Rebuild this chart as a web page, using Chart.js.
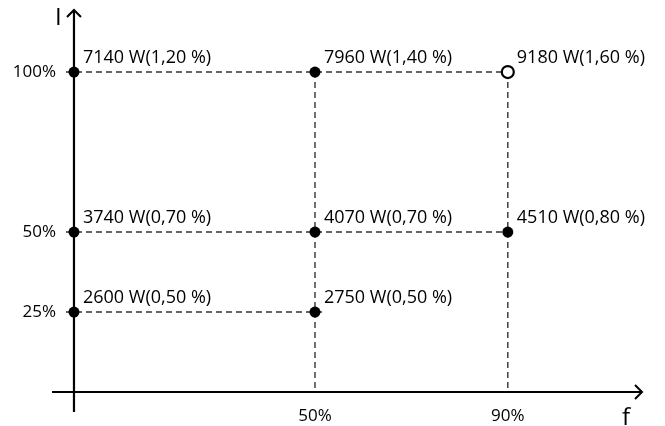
<!DOCTYPE html>
<html>
<head>
<meta charset="utf-8">
<script src="https://cdn.jsdelivr.net/npm/chart.js@4"></script>
<style>
  html, body { margin: 0; padding: 0; background: #fff; }
  #wrap { width: 665px; height: 426px; position: relative; }
</style>
</head>
<body>
<div id="wrap"><canvas id="chart"></canvas></div>
<script>
// 数据
const fValues = [0, 0, 0, 50, 50, 50, 90, 90];
const iValues = [100, 50, 25, 100, 50, 25, 100, 50];
const powers = [7140, 3740, 2600, 7960, 4070, 2750, 9180, 4510];
const shares = ['1,20', '0,70', '0,50', '1,40', '0,70', '0,50', '1,60', '0,80'];
const hollow = [false, false, false, false, false, false, true, false];
const xTicks = [50, 90];
const xTickLabels = ['50%', '90%'];
const yTicks = [25, 50, 100];
const yTickLabels = ['25%', '50%', '100%'];

const FONT = '"Open Sans", "Noto Sans", sans-serif';

// 坐标轴、虚线、标签
const diagramPlugin = {
    id: 'diagram',
    beforeDatasetsDraw(chart) {
        const ctx = chart.ctx;
        const xs = chart.scales.x, ys = chart.scales.y;
        const area = chart.chartArea;
        const x0 = xs.getPixelForValue(0), y0 = ys.getPixelForValue(0);
        ctx.save();
        // dashed guides
        ctx.strokeStyle = '#333';
        ctx.lineWidth = 1.4;
        ctx.setLineDash([6, 4]);
        yTicks.forEach(function(lvl) {
            let maxF = 0;
            fValues.forEach(function(f, i) { if (iValues[i] === lvl && f > maxF) maxF = f; });
            const py = ys.getPixelForValue(lvl);
            ctx.beginPath();
            ctx.moveTo(x0 - 8, py);
            ctx.lineTo(xs.getPixelForValue(maxF) + 8, py);
            ctx.stroke();
        });
        xTicks.forEach(function(col) {
            let maxI = 0;
            fValues.forEach(function(f, i) { if (f === col && iValues[i] > maxI) maxI = iValues[i]; });
            const px = xs.getPixelForValue(col);
            ctx.beginPath();
            ctx.moveTo(px, ys.getPixelForValue(maxI));
            ctx.lineTo(px, y0);
            ctx.stroke();
        });
        ctx.setLineDash([]);
        // axes
        ctx.strokeStyle = '#000';
        ctx.lineWidth = 2.2;
        ctx.beginPath();
        ctx.moveTo(area.left, y0);
        ctx.lineTo(area.right, y0);
        ctx.moveTo(x0, area.bottom);
        ctx.lineTo(x0, area.top);
        ctx.stroke();
        ctx.lineWidth = 2;
        ctx.beginPath();
        ctx.moveTo(area.right - 7, y0 - 7);
        ctx.lineTo(area.right, y0);
        ctx.lineTo(area.right - 7, y0 + 7);
        ctx.moveTo(x0 - 7, area.top + 7);
        ctx.lineTo(x0, area.top);
        ctx.lineTo(x0 + 7, area.top + 7);
        ctx.stroke();
        // tick labels
        ctx.fillStyle = '#000';
        ctx.font = '17px ' + FONT;
        ctx.textAlign = 'center';
        ctx.textBaseline = 'middle';
        xTicks.forEach(function(v, i) {
            ctx.fillText(xTickLabels[i], xs.getPixelForValue(v), y0 + 24);
        });
        ctx.textAlign = 'right';
        yTicks.forEach(function(v, i) {
            ctx.fillText(yTickLabels[i], x0 - 18, ys.getPixelForValue(v));
        });
        // axis names
        ctx.font = '24px ' + FONT;
        ctx.textAlign = 'left';
        ctx.textBaseline = 'alphabetic';
        ctx.fillText('I', x0 - 19, area.top + 15);
        ctx.fillText('f', area.right - 20, y0 + 33);
        ctx.restore();
    },
    afterDatasetsDraw(chart) {
        const ctx = chart.ctx;
        const meta = chart.getDatasetMeta(0);
        ctx.save();
        ctx.fillStyle = '#000';
        ctx.font = '18px ' + FONT;
        ctx.textAlign = 'left';
        ctx.textBaseline = 'alphabetic';
        meta.data.forEach(function(pt, i) {
            ctx.fillText(powers[i] + ' W(' + shares[i] + ' %)', pt.x + 9, pt.y - 9);
        });
        ctx.restore();
    }
};

const points = fValues.map(function(f, i) { return { x: f, y: iValues[i] }; });

new Chart(document.getElementById('chart'), {
    type: 'scatter',
    data: {
        datasets: [{
            data: points,
            backgroundColor: hollow.map(function(h) { return h ? '#fff' : '#000'; }),
            borderColor: '#000',
            borderWidth: hollow.map(function(h) { return h ? 2.2 : 0; }),
            pointRadius: hollow.map(function(h) { return h ? 6 : 5.5; }),
            pointHoverRadius: 5
        }]
    },
    options: {
        responsive: true,
        maintainAspectRatio: false,
        animation: false,
        layout: { padding: { left: 52, right: 23, top: 10, bottom: 14 } },
        plugins: { legend: { display: false }, tooltip: { enabled: false } },
        scales: {
            x: { type: 'linear', display: false, min: -4.56, max: 117.84 },
            y: { type: 'linear', display: false, min: -6.25, max: 119.4 }
        }
    },
    plugins: [diagramPlugin]
});
</script>
</body>
</html>
